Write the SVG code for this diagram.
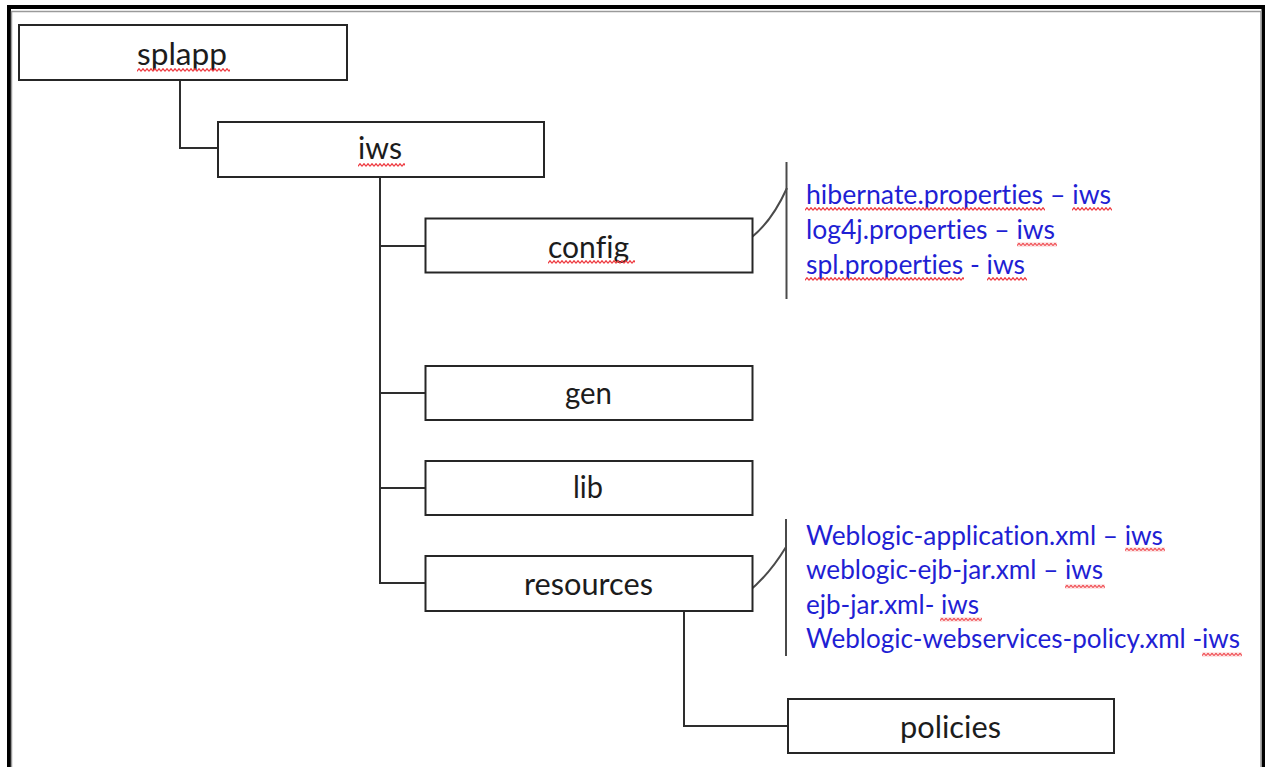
<svg xmlns="http://www.w3.org/2000/svg" width="1265" height="767" viewBox="0 0 1265 767">
<defs>
<pattern id="wave" width="4" height="4" patternUnits="userSpaceOnUse">
<polyline points="0,3.3 2,0.7 4,3.3" fill="none" stroke="#ee3a40" stroke-width="1.2"/>
</pattern>
<style>
.box{fill:#ffffff;stroke:#262626;stroke-width:2}
.lbl{font-family:Lato,"Open Sans","Liberation Sans",sans-serif;font-size:31px;fill:#1c1c1c;font-variant-ligatures:none}
.note{font-family:Lato,"Open Sans","Liberation Sans",sans-serif;font-size:26px;fill:#1f1fd4;font-variant-ligatures:none}
.wire{fill:none;stroke:#2e2e2e;stroke-width:2}
.brk{fill:none;stroke:#4a4a4a;stroke-width:2}
.sq{fill:url(#wave)}
</style>
</defs>
<rect x="0" y="0" width="1265" height="767" fill="#ffffff"/>
<rect x="9" y="7" width="1254.5" height="800" fill="none" stroke="#000" stroke-width="4"/>
<rect x="11.5" y="11.5" width="1249.5" height="800" fill="none" stroke="#9a9a9a" stroke-width="1.5"/>

<g id="connectors">
<polyline class="wire" points="180,80 180,148 218,148"/>
<polyline class="wire" points="380,177 380,583 425,583"/>
<line class="wire" x1="380" y1="246" x2="425" y2="246"/>
<line class="wire" x1="380" y1="393" x2="425" y2="393"/>
<line class="wire" x1="380" y1="488" x2="425" y2="488"/>
<polyline class="wire" points="684,611 684,726 788,726"/>
<line class="brk" x1="786.5" y1="162" x2="786.5" y2="299"/>
<path class="brk" d="M752,237 Q772,221 787,188"/>
<line class="brk" x1="786" y1="519" x2="786" y2="656"/>
<path class="brk" d="M748,592 Q769,575 786,547"/>
</g>

<g id="node-splapp">
<rect class="box" x="19" y="25" width="328" height="55"/>
<text class="lbl" x="137" y="64.5" textLength="90" lengthAdjust="spacingAndGlyphs">splapp</text>
<rect class="sq" transform="translate(137,68)" width="93" height="4"/>
</g>
<g id="node-iws">
<rect class="box" x="218" y="122" width="326" height="55"/>
<text class="lbl" x="358" y="158.5" textLength="44" lengthAdjust="spacingAndGlyphs">iws</text>
<rect class="sq" transform="translate(358,163)" width="47" height="4"/>
</g>
<g id="node-config">
<rect class="box" x="425.5" y="218.5" width="327" height="54"/>
<text class="lbl" x="548" y="257.5" textLength="81" lengthAdjust="spacingAndGlyphs">config</text>
<rect class="sq" transform="translate(548,260)" width="87" height="4"/>
</g>
<g id="node-gen">
<rect class="box" x="425.5" y="366" width="327" height="54"/>
<text class="lbl" x="565" y="403.5" textLength="47" lengthAdjust="spacingAndGlyphs">gen</text>
</g>
<g id="node-lib">
<rect class="box" x="425.5" y="461" width="327" height="54"/>
<text class="lbl" x="573" y="498" textLength="30" lengthAdjust="spacingAndGlyphs">lib</text>
</g>
<g id="node-resources">
<rect class="box" x="425.5" y="556" width="327" height="55"/>
<text class="lbl" x="524" y="594.5" textLength="129" lengthAdjust="spacingAndGlyphs">resources</text>
</g>
<g id="node-policies">
<rect class="box" x="788" y="699" width="326" height="54"/>
<text class="lbl" x="900" y="737.5" textLength="101" lengthAdjust="spacingAndGlyphs">policies</text>
</g>

<g id="config-files">
<text class="note" x="806" y="203.5" textLength="305" lengthAdjust="spacingAndGlyphs">hibernate.properties – iws</text>
<text class="note" x="806" y="238.5" textLength="249" lengthAdjust="spacingAndGlyphs">log4j.properties – iws</text>
<text class="note" x="806" y="273.5" textLength="219" lengthAdjust="spacingAndGlyphs">spl.properties - iws</text>
<rect class="sq" transform="translate(805,207)" width="240" height="4"/>
<rect class="sq" transform="translate(1072,207)" width="40" height="4"/>
<rect class="sq" transform="translate(1017,242.5)" width="40" height="4"/>
<rect class="sq" transform="translate(805,277)" width="159" height="4"/>
<rect class="sq" transform="translate(987,277)" width="40" height="4"/>
</g>

<g id="resources-files">
<text class="note" x="806" y="544.5" textLength="357" lengthAdjust="spacingAndGlyphs">Weblogic-application.xml – iws</text>
<text class="note" x="806" y="579" textLength="297" lengthAdjust="spacingAndGlyphs">weblogic-ejb-jar.xml – iws</text>
<text class="note" x="806" y="613.5" textLength="173" lengthAdjust="spacingAndGlyphs">ejb-jar.xml- iws</text>
<text class="note" x="806" y="648" textLength="434" lengthAdjust="spacingAndGlyphs">Weblogic-webservices-policy.xml -iws</text>
<rect class="sq" transform="translate(1125,547.5)" width="40" height="4"/>
<rect class="sq" transform="translate(1065,584.5)" width="40" height="4"/>
<rect class="sq" transform="translate(940,617.5)" width="42" height="4"/>
<rect class="sq" transform="translate(1202,652.5)" width="40" height="4"/>
</g>
</svg>
